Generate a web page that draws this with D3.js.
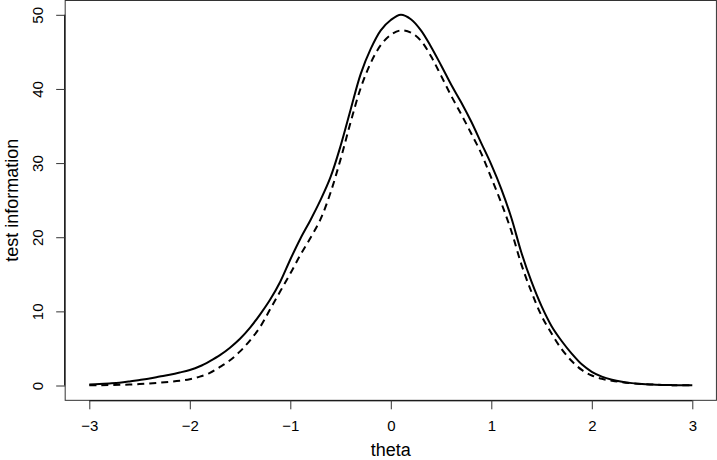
<!doctype html>
<html>
<head>
    <script src="https://d3js.org/d3.v7.min.js"></script>
    <style>
        body { margin: 0; background: white; }
        text { font-family: "Liberation Sans", Arial, sans-serif; }
    </style>
</head>
<body>
    <script>
        var width = 717;
        var height = 460;

        // theta grid and the two information curves
        var theta = d3.range(-30, 31).map(function(i){ return i / 10; });
        var infoSolid = [0.15, 0.2, 0.28, 0.38, 0.55, 0.75, 0.95, 1.2, 1.45, 1.75,
                         2.1, 2.6, 3.3, 4.1, 5.1, 6.3, 7.8, 9.6, 11.6, 14.0,
                         17.0, 19.8, 22.3, 25.0, 28.1, 32.3, 37.2, 42.0, 45.4, 47.9,
                         49.3, 50.0, 49.4, 47.9, 45.7, 43.2, 40.6, 38.2, 35.6, 32.7,
                         29.8, 26.5, 22.6, 17.9, 14.0, 10.7, 8.0, 6.0, 4.3, 2.85,
                         1.85, 1.2, 0.78, 0.5, 0.32, 0.2, 0.13, 0.08, 0.05, 0.03, 0.02];
        var infoDashed = [0.03, 0.04, 0.06, 0.09, 0.13, 0.2, 0.28, 0.38, 0.5, 0.65,
                          0.85, 1.2, 1.7, 2.5, 3.4, 4.6, 6.1, 7.9, 10.3, 12.7,
                          15.1, 17.6, 19.9, 22.4, 26.0, 30.5, 35.5, 40.1, 43.5, 45.9,
                          47.3, 47.9, 47.6, 46.5, 44.4, 41.8, 39.1, 36.6, 34.0, 31.3,
                          28.0, 24.6, 20.8, 16.3, 12.6, 9.4, 7.0, 4.9, 3.3, 2.1,
                          1.35, 0.9, 0.65, 0.45, 0.3, 0.2, 0.13, 0.08, 0.05, 0.03, 0.02];
        var xTicks = [-3, -2, -1, 0, 1, 2, 3];
        var yTicks = [0, 10, 20, 30, 40, 50];

        var x = d3.scaleLinear().domain([-3, 3]).range([89.3, 692.3]);
        var y = d3.scaleLinear().domain([0, 50]).range([385.5, 14.8]);

        var svg = d3.select("body")
                    .append("svg")
                    .attr("width", width)
                    .attr("height", height);

        // plot box (R extends the range 4%)
        svg.append("rect")
           .attr("x", x(-3.24))
           .attr("y", Math.max(0.5, y(52)))
           .attr("width", x(3.24) - x(-3.24))
           .attr("height", y(-2) - Math.max(0.5, y(52)))
           .attr("fill", "none")
           .attr("stroke", "#333")
           .attr("stroke-width", 1);

        // x axis
        var xAxis = d3.axisBottom(x)
                      .tickValues(xTicks)
                      .tickSize(9)
                      .tickPadding(11)
                      .tickFormat(function(d){ return d < 0 ? "\u2212" + Math.abs(d) : d; });
        var gx = svg.append("g")
                    .attr("transform", "translate(0," + y(-2) + ")")
                    .call(xAxis);
        gx.select(".domain").attr("d", "M" + x(-3) + ",0.5H" + x(3));
        gx.selectAll("line").attr("stroke", "#333");
        gx.selectAll("text").attr("font-size", 15).attr("fill", "#000")
          .attr("font-family", "Liberation Sans, Arial, sans-serif");

        // y axis
        var yAxis = d3.axisLeft(y)
                      .tickValues(yTicks)
                      .tickSize(9)
                      .tickPadding(6);
        var gy = svg.append("g")
                    .attr("transform", "translate(" + x(-3.24) + ",0)")
                    .call(yAxis);
        gy.select(".domain").attr("d", "M-0.5," + y(0) + "V" + y(50));
        gy.selectAll("line").attr("stroke", "#333");
        gy.selectAll("text")
          .attr("font-size", 15).attr("fill", "#000")
          .attr("font-family", "Liberation Sans, Arial, sans-serif")
          .attr("text-anchor", "middle")
          .attr("dy", 0)
          .attr("x", 0)
          .attr("transform", "translate(-22,0) rotate(-90)");

        // axis titles
        svg.append("text")
           .attr("x", x(0))
           .attr("y", 456)
           .attr("text-anchor", "middle")
           .attr("font-size", 18)
           .text("theta");
        svg.append("text")
           .attr("transform", "translate(18," + y(25) + ") rotate(-90)")
           .attr("text-anchor", "middle")
           .attr("font-size", 18)
           .text("test information");

        // curves
        var line = d3.line()
                     .x(function(d){ return x(d[0]); })
                     .y(function(d){ return y(d[1]); })
                     .curve(d3.curveCatmullRom);

        svg.append("path")
           .datum(d3.zip(theta, infoDashed))
           .attr("d", line)
           .attr("fill", "none")
           .attr("stroke", "#000")
           .attr("stroke-width", 2)
           .attr("stroke-dasharray", "7,5");

        svg.append("path")
           .datum(d3.zip(theta, infoSolid))
           .attr("d", line)
           .attr("fill", "none")
           .attr("stroke", "#000")
           .attr("stroke-width", 2);
    </script>
</body>
</html>
